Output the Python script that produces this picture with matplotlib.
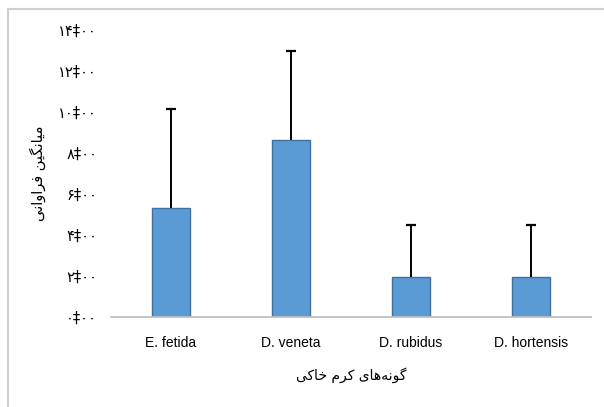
import matplotlib
matplotlib.use("Agg")
import matplotlib.pyplot as plt
from matplotlib.patches import Rectangle

# data
species = ["E. fetida", "D. veneta", "D. rubidus", "D. hortensis"]
means = [5.32, 8.63, 1.95, 1.95]
errs = [4.83, 4.35, 2.54, 2.54]
yticks = [0, 2, 4, 6, 8, 10, 12, 14]
ytick_labels = ["۰‡۰۰", "۲‡۰۰", "۴‡۰۰", "۶‡۰۰", "۸‡۰۰", "۱۰‡۰۰", "۱۲‡۰۰", "۱۴‡۰۰"]

# Persian labels, pre-shaped with presentation forms (logical order), reversed for display
ylab_shaped = "\uFEE3\uFBFF\uFE8E\uFEE7\uFB95\uFBFF\uFEE6 \uFED3\uFEAE\uFE8D\uFEED\uFE8D\uFEE7\uFBFD"  # میانگین فراوانی
xlab_shaped = "\uFB94\uFEEE\uFEE7\uFEEA\uFEEB\uFE8E\uFBFC \uFB90\uFEAE\uFEE1 \uFEA7\uFE8E\uFB90\uFBFD"  # گونه‌های کرم خاکی
ylabel = ylab_shaped[::-1]
xlabel = xlab_shaped[::-1]

W, H = 604, 407
fig = plt.figure(figsize=(W / 100, H / 100), dpi=100)
ax = fig.add_axes([111 / W, 90 / H, 480 / W, 287 / H])

x = list(range(len(species)))
tops = [m + e for m, e in zip(means, errs)]
ax.bar(x, means, width=0.31, color="#5B9BD5", edgecolor="#41719C", linewidth=1.0, zorder=2)
# upper-only error bars: stem + cap at the top
ax.vlines(x, means, tops, color="black", linewidth=1.4, zorder=3)
ax.plot(x, tops, linestyle="none", marker="_", markersize=6.5, markeredgewidth=1.6,
        color="black", zorder=3)

ax.set_xlim(-0.5, 3.5)
ax.set_ylim(0, 14)
ax.set_yticks(yticks)
ax.set_yticklabels(ytick_labels, fontsize=10.5, family=["DejaVu Sans"])
ax.set_xticks(x)
ax.set_xticklabels(species, fontsize=10, family=["Liberation Sans Narrow", "Liberation Sans"])
ax.tick_params(axis="both", length=0)
ax.tick_params(axis="y", pad=10)
ax.tick_params(axis="x", pad=14)

for s in ["top", "right", "left"]:
    ax.spines[s].set_visible(False)
ax.spines["bottom"].set_color("#BFBFBF")
ax.spines["bottom"].set_linewidth(1.3)

ax.set_xlabel(xlabel, fontsize=10, family=["DejaVu Sans"], labelpad=12)
ax.set_ylabel(ylabel, fontsize=10.5, family=["DejaVu Sans"], labelpad=9)

# outer chart frame (partly cut off in the reference)
fig.patches.append(Rectangle((8 / W, -0.1), 1.2, (H - 9) / H + 0.1, transform=fig.transFigure,
                             fill=False, edgecolor="#D0D0D0", linewidth=1.5, clip_on=False))

fig.savefig("out.png", dpi=100)
